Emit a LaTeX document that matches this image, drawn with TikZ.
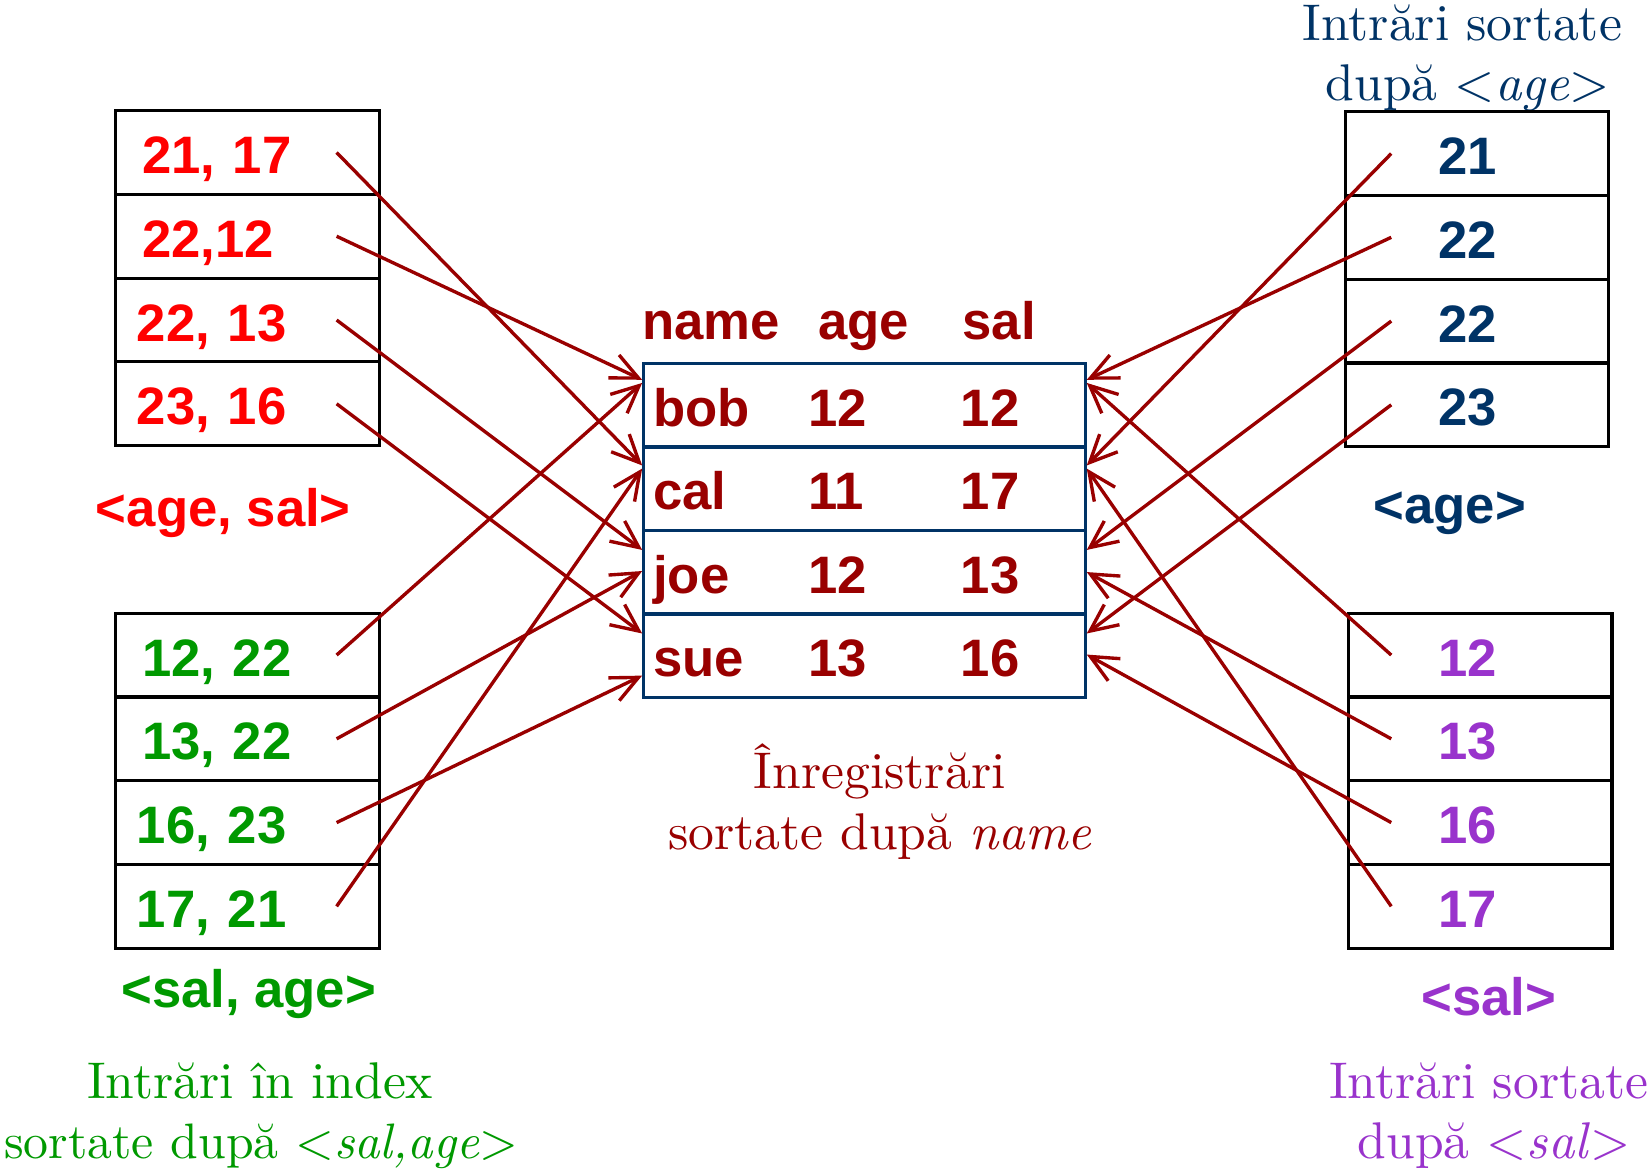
\documentclass[tikz,border=0pt]{standalone}
\usepackage{fontspec}
\setsansfont{Liberation Sans}
\usetikzlibrary{arrows.meta}
\definecolor{cred}{HTML}{FF0000}
\definecolor{cgreen}{HTML}{009900}
\definecolor{cnavy}{HTML}{003366}
\definecolor{cpurple}{HTML}{9933CC}
\definecolor{cdred}{HTML}{990000}
\begin{document}
\begin{tikzpicture}[x=1pt,y=-1pt,
  sansbig/.style={font=\sffamily\bfseries\fontsize{50}{60}\selectfont},
  cell/.style={sansbig,draw=black,line width=3pt,minimum width=250pt,minimum height=79.5pt,inner ysep=0pt,text height=40pt,text depth=0pt},
  lcell/.style={cell,text width=200pt,inner xsep=25pt,align=left},
  rcell/.style={cell,inner xsep=0pt},
  tcell/.style={sansbig,draw=cnavy,line width=3pt,minimum width=419pt,minimum height=79.25pt,inner ysep=0pt,text height=40pt,text depth=0pt,text width=401pt,inner xsep=9pt,align=left,text=cdred},
  ptr/.style={draw=cdred,line width=3.2pt,-{Straight Barb[length=26pt,width=24pt]}},
  lab/.style={sansbig,anchor=center},
  ser/.style={anchor=base,inner sep=0pt,scale=4.9,font=\fontsize{10}{12}\selectfont}]
\useasboundingbox (0,0) rectangle (1568,1115);
\fill[white] (0,0) rectangle (1568,1115);

% left top index <age, sal>
\node[lcell,text=cred] (l1) at (235,144.75) {21, 17};
\node[lcell,text=cred] (l2) at (235,224.25) {22,12};
\node[lcell,text=cred] (l3) at (235,303.75) {\hspace*{-5pt}22, 13};
\node[lcell,text=cred] (l4) at (235,383.25) {\hspace*{-5pt}23, 16};
\node[lab,text=cred] (lab1) at (212,487) {<age, sal>};

% left bottom index <sal, age>
\node[lcell,text=cgreen] (g1) at (235,621.75) {12, 22};
\node[lcell,text=cgreen] (g2) at (235,701.25) {13, 22};
\node[lcell,text=cgreen] (g3) at (235,780.75) {\hspace*{-5pt}16, 23};
\node[lcell,text=cgreen] (g4) at (235,860.25) {\hspace*{-5pt}17, 21};
\node[lab,text=cgreen] (lab2) at (236,943) {<sal, age>};
\node[ser,text=cgreen] (gt1) at (247,1043) {Intrări în index};
\node[ser,text=cgreen,scale=0.965] (gt2) at (248,1100) {sortate după <\textit{sal,age}>};

% right top index <age>
\node[ser,text=cnavy] (rt1) at (1388,38) {Intrări sortate};
\node[ser,text=cnavy] (rt2) at (1393,95) {după <\textit{age}>};
\node[rcell,text=cnavy] (r1) at (1402,145.75) {\hspace*{-18pt}21};
\node[rcell,text=cnavy] (r2) at (1402,225.25) {\hspace*{-18pt}22};
\node[rcell,text=cnavy] (r3) at (1402,304.75) {\hspace*{-18pt}22};
\node[rcell,text=cnavy] (r4) at (1402,384.25) {\hspace*{-18pt}23};
\node[lab,text=cnavy] (lab3) at (1376,487) {<age>};

% right bottom index <sal>
\node[rcell,text=cpurple] (p1) at (1405,621.75) {\hspace*{-24pt}12};
\node[rcell,text=cpurple] (p2) at (1405,701.25) {\hspace*{-24pt}13};
\node[rcell,text=cpurple] (p3) at (1405,780.75) {\hspace*{-24pt}16};
\node[rcell,text=cpurple] (p4) at (1405,860.25) {\hspace*{-24pt}17};
\node[lab,text=cpurple] (lab4) at (1413,946) {<sal>};
\node[ser,text=cpurple] (pt1) at (1413,1043) {Intrări sortate};
\node[ser,text=cpurple] (pt2) at (1418,1100) {după <\textit{sal}>};

% records table
\node[sansbig,text=cdred,anchor=base west] (hname) at (606,322) {name};
\node[sansbig,text=cdred,anchor=base west] (hage) at (773,322) {age};
\node[sansbig,text=cdred,anchor=base west] (hsal) at (910,322) {sal};
\node[tcell] (t1) at (820.5,384.6) {\makebox[147pt][l]{bob}\makebox[145pt][l]{12}12};
\node[tcell] (t2) at (820.5,463.9) {\makebox[147pt][l]{cal}\makebox[145pt][l]{11}17};
\node[tcell] (t3) at (820.5,543.1) {\makebox[147pt][l]{joe}\makebox[145pt][l]{12}13};
\node[tcell] (t4) at (820.5,622.4) {\makebox[147pt][l]{sue}\makebox[145pt][l]{13}16};
\node[ser,text=cdred] (tt1) at (835,748) {Înregistrări};
\node[ser,text=cdred] (tt2) at (835,806) {sortate după \textit{name}};

% pointers from left indexes
\draw[ptr] ([xshift=-42pt]l1.east) -- ([yshift=-19pt]t2.north west);
\draw[ptr] ([xshift=-42pt]l2.east) -- ([yshift=-17pt]t1.north west);
\draw[ptr] ([xshift=-42pt]l3.east) -- ([yshift=-20pt]t3.north west);
\draw[ptr] ([xshift=-42pt]l4.east) -- ([yshift=-20pt]t4.north west);
\draw[ptr] ([xshift=-42pt]g1.east) -- ([yshift=-20pt]t1.north west);
\draw[ptr] ([xshift=-42pt]g2.east) -- ([yshift=-40pt]t3.north west);
\draw[ptr] ([xshift=-42pt]g3.east) -- ([yshift=-60pt]t4.north west);
\draw[ptr] ([xshift=-42pt]g4.east) -- ([yshift=-22pt]t2.north west);
% pointers from right indexes
\draw[ptr] ([xshift=45pt]r1.west) -- ([yshift=-19pt]t2.north east);
\draw[ptr] ([xshift=45pt]r2.west) -- ([yshift=-17pt]t1.north east);
\draw[ptr] ([xshift=45pt]r3.west) -- ([yshift=-20pt]t3.north east);
\draw[ptr] ([xshift=45pt]r4.west) -- ([yshift=-20pt]t4.north east);
\draw[ptr] ([xshift=42pt]p1.west) -- ([yshift=-20pt]t1.north east);
\draw[ptr] ([xshift=42pt]p2.west) -- ([yshift=-41pt]t3.north east);
\draw[ptr] ([xshift=42pt]p3.west) -- ([yshift=-40pt]t4.north east);
\draw[ptr] ([xshift=42pt]p4.west) -- ([yshift=-22pt]t2.north east);
\end{tikzpicture}
\end{document}
